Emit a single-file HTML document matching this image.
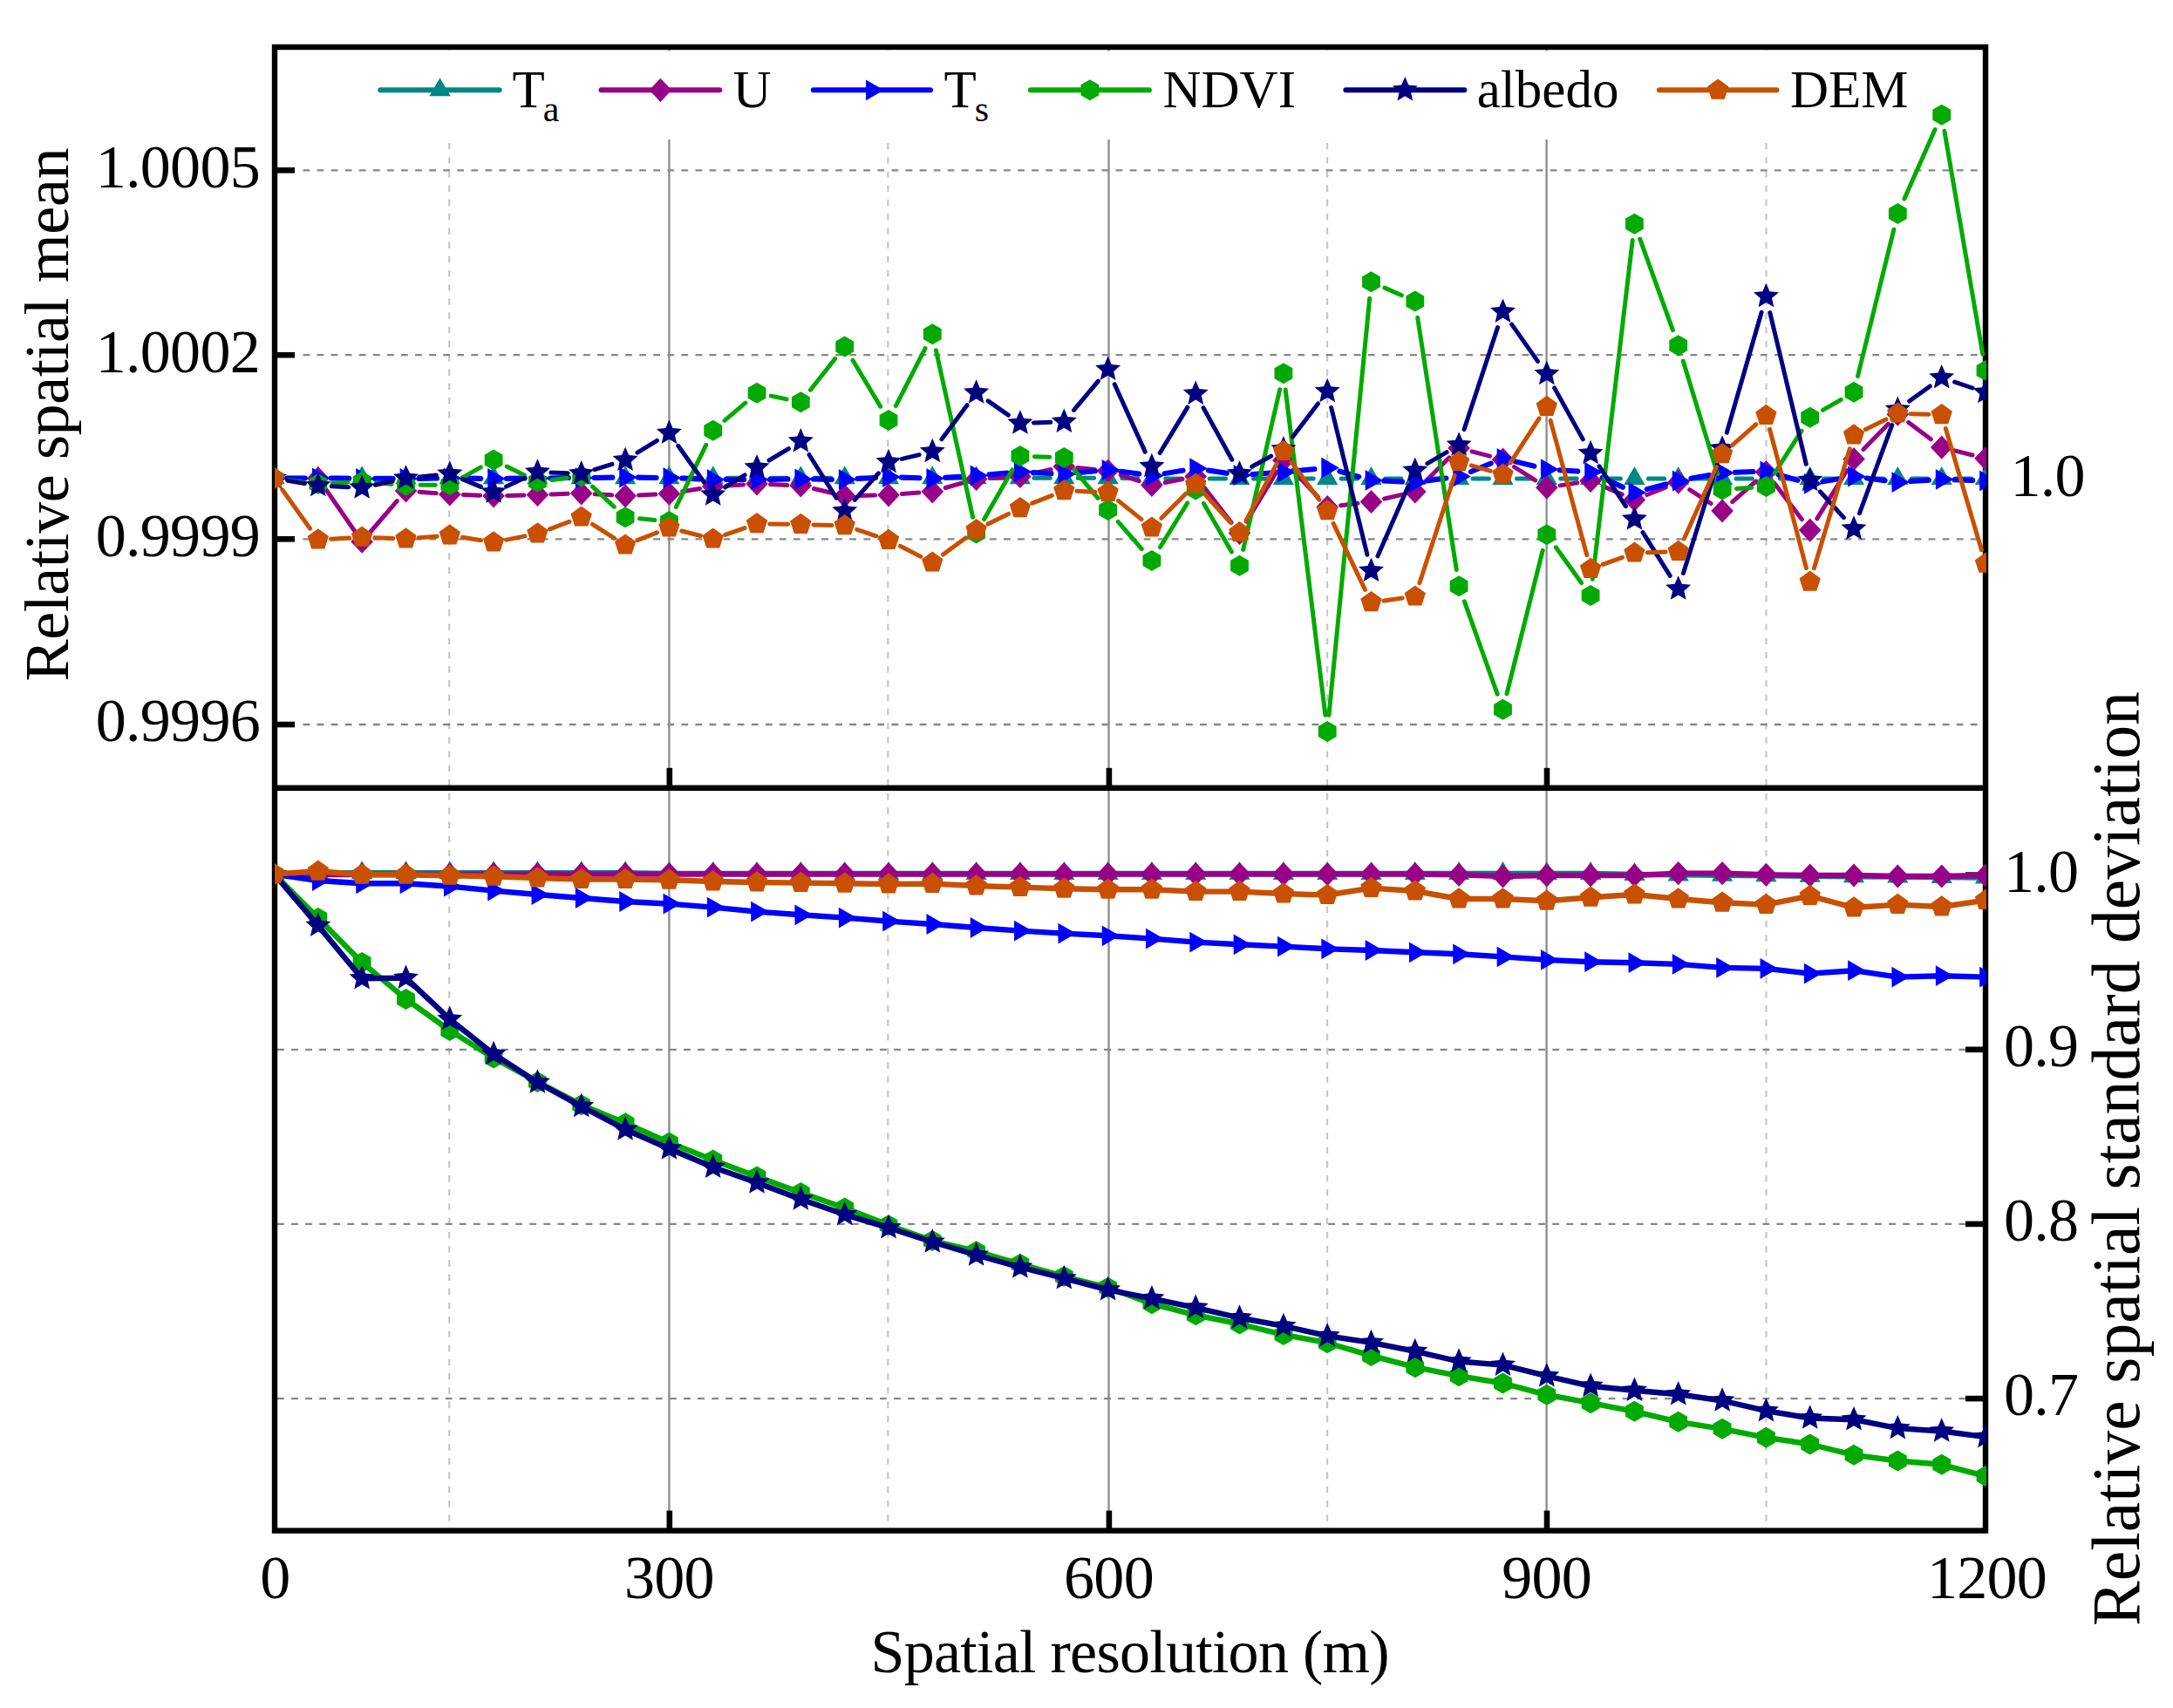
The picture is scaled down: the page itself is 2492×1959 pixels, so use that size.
<!DOCTYPE html>
<html><head><meta charset="utf-8"><title>Relative spatial mean and standard deviation</title>
<style>html,body{margin:0;padding:0;background:#fff;overflow:hidden}svg{display:block}text{font-family:"Liberation Serif",serif;fill:#000}</style>
</head><body>
<svg width="2492" height="1959" viewBox="0 0 2492 1959">
<rect x="0" y="0" width="2492" height="1959" fill="#fff"/>
<defs>
<polygon id="mTa" points="0,-14 12.1,7 -12.1,7" fill="#008686"/>
<polygon id="mU" points="0,-13.6 12.8,0 0,13.6 -12.8,0" fill="#990088"/>
<polygon id="mTs" points="13.7,0 -6.8,11.9 -6.9,-11.9" fill="#0000ff"/>
<polygon id="mNDVI" points="0,-12 10.4,-6 10.4,6 0,12 -10.4,6 -10.4,-6" fill="#00aa00"/>
<polygon id="malbedo" points="0,-15.2 4.1,-5.7 14.5,-4.7 6.6,2.2 8.9,12.3 0,7 -8.9,12.3 -6.6,2.2 -14.5,-4.7 -4.1,-5.7" fill="#000080"/>
<polygon id="mDEM" points="0,-12.8 12.2,-4 7.5,10.4 -7.5,10.4 -12.2,-4" fill="#c85000"/>
<clipPath id="cpT"><rect x="315" y="54" width="1963" height="849.8"/></clipPath>
<clipPath id="cpB"><rect x="315" y="903.8" width="1963" height="851.8"/></clipPath>
</defs>
<g fill="none">
<line x1="767.4" y1="54" x2="767.4" y2="1755.6" stroke="#8a8a8a" stroke-width="2.3"/>
<line x1="1271.5" y1="54" x2="1271.5" y2="1755.6" stroke="#8a8a8a" stroke-width="2.3"/>
<line x1="1773.6" y1="54" x2="1773.6" y2="1755.6" stroke="#8a8a8a" stroke-width="2.3"/>
<line x1="515.2" y1="54" x2="515.2" y2="1755.6" stroke="#c6c6c6" stroke-width="2.2" stroke-dasharray="7.4 8.82" stroke-dashoffset="3.6"/>
<line x1="1018.3" y1="54" x2="1018.3" y2="1755.6" stroke="#c6c6c6" stroke-width="2.2" stroke-dasharray="7.4 8.82" stroke-dashoffset="3.6"/>
<line x1="1522.1" y1="54" x2="1522.1" y2="1755.6" stroke="#c6c6c6" stroke-width="2.2" stroke-dasharray="7.4 8.82" stroke-dashoffset="3.6"/>
<line x1="2025.5" y1="54" x2="2025.5" y2="1755.6" stroke="#c6c6c6" stroke-width="2.2" stroke-dasharray="7.4 8.82" stroke-dashoffset="3.6"/>
<line x1="347.5" y1="195.3" x2="2274" y2="195.3" stroke="#868686" stroke-width="2.3" stroke-dasharray="7.8 8.27" />
<line x1="347.5" y1="407.2" x2="2274" y2="407.2" stroke="#868686" stroke-width="2.3" stroke-dasharray="7.8 8.27" />
<line x1="347.5" y1="618.3" x2="2274" y2="618.3" stroke="#868686" stroke-width="2.3" stroke-dasharray="7.8 8.27" />
<line x1="347.5" y1="831" x2="2274" y2="831" stroke="#868686" stroke-width="2.3" stroke-dasharray="7.8 8.27" />
<line x1="318" y1="1203.8" x2="2274" y2="1203.8" stroke="#868686" stroke-width="2.3" stroke-dasharray="7.8 8.27" />
<line x1="318" y1="1403.9" x2="2274" y2="1403.9" stroke="#868686" stroke-width="2.3" stroke-dasharray="7.8 8.27" />
<line x1="318" y1="1604.1" x2="2274" y2="1604.1" stroke="#868686" stroke-width="2.3" stroke-dasharray="7.8 8.27" />
</g>
<rect x="400" y="58.5" width="1810" height="101.5" fill="#fff"/>
<g stroke="#000" fill="none" stroke-width="6.4">
<rect x="315" y="54" width="1962" height="1701.6"/>
<line x1="315" y1="903.8" x2="2277" y2="903.8"/>
</g>
<g stroke="#000" fill="none" stroke-width="6.6">
<line x1="315" y1="195.3" x2="338" y2="195.3"/>
<line x1="315" y1="407.2" x2="338" y2="407.2"/>
<line x1="315" y1="618.3" x2="338" y2="618.3"/>
<line x1="315" y1="831" x2="338" y2="831"/>
<line x1="2277" y1="1003.6" x2="2254" y2="1003.6"/>
<line x1="2277" y1="1203.8" x2="2254" y2="1203.8"/>
<line x1="2277" y1="1403.9" x2="2254" y2="1403.9"/>
<line x1="2277" y1="1604.1" x2="2254" y2="1604.1"/>
<line x1="767.8" y1="1755.6" x2="767.8" y2="1732.6"/>
<line x1="767.8" y1="903.8" x2="767.8" y2="880.8"/>
<line x1="1271.9" y1="1755.6" x2="1271.9" y2="1732.6"/>
<line x1="1271.9" y1="903.8" x2="1271.9" y2="880.8"/>
<line x1="1774" y1="1755.6" x2="1774" y2="1732.6"/>
<line x1="1774" y1="903.8" x2="1774" y2="880.8"/>
</g>
<g clip-path="url(#cpT)">
<path d="M330.5 548.3L348.8 548.3M380.8 548.3L399.1 548.3M431.1 548.3L449.5 548.3M481.5 548.3L499.8 548.3M531.8 548.3L550.1 548.3M582.1 548.3L600.4 548.3M632.4 548.3L650.7 548.3M682.7 548.3L701.1 548.3M733.1 548.3L751.4 548.3M783.4 548.3L801.7 548.3M833.7 548.3L852 548.3M884 548.3L902.3 548.3M934.3 548.3L952.7 548.3M984.7 548.3L1003 548.3M1035 548.3L1053.3 548.3M1085.3 548.3L1103.6 548.3M1135.6 548.3L1153.9 548.3M1185.9 548.3L1204.3 548.3M1236.3 548.3L1254.6 548.3M1286.6 548.5L1304.9 548.8M1336.9 549L1355.2 549M1387.2 549L1405.5 549M1437.5 549L1455.9 549M1487.9 549L1506.2 549M1538.2 549L1556.5 549M1588.5 549L1606.8 549M1638.8 549L1657.1 549M1689.1 549L1707.5 549M1739.5 549L1757.8 549M1789.8 549L1808.1 549M1840.1 549L1858.4 549M1890.4 549L1908.7 549M1940.7 549L1959.1 549M1991.1 549L2009.4 549M2041.4 549L2059.7 549M2091.7 549L2110 549M2142 549L2160.3 549M2192.3 549L2210.7 549M2242.7 549L2261 549" stroke="#008686" stroke-width="5" stroke-linecap="round" fill="none"/>
<g><use href="#mTa" x="314.5" y="548.3"/><use href="#mTa" x="364.8" y="548.3"/><use href="#mTa" x="415.1" y="548.3"/><use href="#mTa" x="465.5" y="548.3"/><use href="#mTa" x="515.8" y="548.3"/><use href="#mTa" x="566.1" y="548.3"/><use href="#mTa" x="616.4" y="548.3"/><use href="#mTa" x="666.7" y="548.3"/><use href="#mTa" x="717.1" y="548.3"/><use href="#mTa" x="767.4" y="548.3"/><use href="#mTa" x="817.7" y="548.3"/><use href="#mTa" x="868" y="548.3"/><use href="#mTa" x="918.3" y="548.3"/><use href="#mTa" x="968.7" y="548.3"/><use href="#mTa" x="1019" y="548.3"/><use href="#mTa" x="1069.3" y="548.3"/><use href="#mTa" x="1119.6" y="548.3"/><use href="#mTa" x="1169.9" y="548.3"/><use href="#mTa" x="1220.3" y="548.3"/><use href="#mTa" x="1270.6" y="548.3"/><use href="#mTa" x="1320.9" y="549"/><use href="#mTa" x="1371.2" y="549"/><use href="#mTa" x="1421.5" y="549"/><use href="#mTa" x="1471.9" y="549"/><use href="#mTa" x="1522.2" y="549"/><use href="#mTa" x="1572.5" y="549"/><use href="#mTa" x="1622.8" y="549"/><use href="#mTa" x="1673.1" y="549"/><use href="#mTa" x="1723.5" y="549"/><use href="#mTa" x="1773.8" y="549"/><use href="#mTa" x="1824.1" y="549"/><use href="#mTa" x="1874.4" y="549"/><use href="#mTa" x="1924.7" y="549"/><use href="#mTa" x="1975.1" y="549"/><use href="#mTa" x="2025.4" y="549"/><use href="#mTa" x="2075.7" y="549"/><use href="#mTa" x="2126" y="549"/><use href="#mTa" x="2176.3" y="549"/><use href="#mTa" x="2226.7" y="549"/><use href="#mTa" x="2277" y="549"/></g>
<path d="M330 548.7L349.3 548.6M373.6 561.2L406.3 608.5M425.3 609.5L455.3 574.7M480.9 564.2L500.3 565.8M531.3 567.5L550.6 568.2M581.6 568.4L600.9 567.9M631.9 567L651.2 566.3M682.2 566.7L701.6 567.8M732.5 568L751.9 567M782.7 563.7L802.4 560.5M833.2 557.1L852.5 555.9M883.5 555.6L902.9 556.4M933.4 560.5L953.6 565.2M984.2 568.4L1003.5 568.1M1034.4 566.5L1053.8 565M1084.2 559.5L1104.7 553.7M1135.1 548.6L1154.5 547.4M1185.1 543L1205.1 538.5M1235.7 536.5L1255.2 538.5M1285.3 544.8L1306.2 551.7M1336.1 553.5L1356 549.5M1380.7 558.8L1412.1 599.2M1429.5 598.2L1463.9 541.2M1482.5 539.2L1511.6 570.2M1537.6 579.7L1557.1 577.3M1587.6 572L1607.7 567.4M1633.8 553L1662.1 524.8M1688.1 517.9L1708.5 523.2M1736.5 535.5L1760.7 550.9M1789.1 556.9L1808.8 553.8M1838.3 557.6L1860.2 567.1M1888.8 567.5L1910.3 558.9M1937.7 561.6L1962.1 577.5M1986.7 575.6L2013.8 551.8M2034.7 553.9L2066.4 595.7M2083.8 594.9L2117.9 539.7M2136.9 515.4L2165.5 486.3M2188.7 484.5L2214.3 503.8M2241.7 516.9L2262 522" stroke="#990088" stroke-width="5" stroke-linecap="round" fill="none"/>
<g><use href="#mU" x="314.5" y="548.8"/><use href="#mU" x="364.8" y="548.5"/><use href="#mU" x="415.1" y="621.2"/><use href="#mU" x="465.5" y="563"/><use href="#mU" x="515.8" y="567"/><use href="#mU" x="566.1" y="568.8"/><use href="#mU" x="616.4" y="567.5"/><use href="#mU" x="666.7" y="565.8"/><use href="#mU" x="717.1" y="568.8"/><use href="#mU" x="767.4" y="566.2"/><use href="#mU" x="817.7" y="558"/><use href="#mU" x="868" y="555"/><use href="#mU" x="918.3" y="557"/><use href="#mU" x="968.7" y="568.8"/><use href="#mU" x="1019" y="567.8"/><use href="#mU" x="1069.3" y="563.8"/><use href="#mU" x="1119.6" y="549.5"/><use href="#mU" x="1169.9" y="546.5"/><use href="#mU" x="1220.3" y="535"/><use href="#mU" x="1270.6" y="540"/><use href="#mU" x="1320.9" y="556.5"/><use href="#mU" x="1371.2" y="546.5"/><use href="#mU" x="1421.5" y="611.5"/><use href="#mU" x="1471.9" y="527.9"/><use href="#mU" x="1522.2" y="581.5"/><use href="#mU" x="1572.5" y="575.5"/><use href="#mU" x="1622.8" y="563.9"/><use href="#mU" x="1673.1" y="513.9"/><use href="#mU" x="1723.5" y="527.2"/><use href="#mU" x="1773.8" y="559.2"/><use href="#mU" x="1824.1" y="551.5"/><use href="#mU" x="1874.4" y="573.2"/><use href="#mU" x="1924.7" y="553.2"/><use href="#mU" x="1975.1" y="585.9"/><use href="#mU" x="2025.4" y="541.5"/><use href="#mU" x="2075.7" y="608.1"/><use href="#mU" x="2126" y="526.5"/><use href="#mU" x="2176.3" y="475.2"/><use href="#mU" x="2226.7" y="513.1"/><use href="#mU" x="2277" y="525.8"/></g>
<path d="M329.3 548.6L350 548.4M379.6 548.5L400.3 548.8M429.9 549L450.7 549M480.3 548.9L501 548.6M530.6 548.6L551.3 548.9M580.9 548.9L601.6 548.6M631.2 548.4L651.9 548.1M681.5 547.9L702.3 547.6M731.9 547.6L752.6 547.9M782.2 548.6L802.9 549.4M832.5 550L853.2 550M882.8 549.9L903.5 549.6M933.1 549.6L953.9 549.9M983.4 549.1L1004.2 547.9M1033.8 547.5L1054.5 548.2M1084.1 547.8L1104.9 546.5M1134.4 544.3L1155.2 542.5M1184.7 542L1205.5 543M1235 542.3L1255.9 540.2M1285.2 540.7L1306.2 543.5M1335.5 543.1L1356.6 539.6M1385.8 539.5L1406.9 542.7M1436.3 544L1457.1 542.6M1486.6 540.1L1507.5 538M1536.4 540.6L1558.3 546.8M1587.3 551.6L1608 552.5M1637.5 551.3L1658.5 548.5M1686.8 541L1709.8 531.5M1737.8 529.4L1759.4 534.7M1788.5 539.2L1809.3 540.6M1837.5 547.8L1861 558.7M1888.7 561.1L1910.4 555.3M1939.3 548.8L1960.5 545M1989.9 541.8L2010.6 541M2039.6 544.5L2061.5 550.8M2090.3 552.4L2111.4 548.9M2140.7 548.4L2161.7 551.2M2191.1 552.1L2211.9 550.8M2241.5 550.3L2262.2 551" stroke="#0000ff" stroke-width="6" stroke-linecap="round" fill="none"/>
<g><use href="#mTs" x="314.5" y="548.8"/><use href="#mTs" x="364.8" y="548.3"/><use href="#mTs" x="415.1" y="549"/><use href="#mTs" x="465.5" y="549"/><use href="#mTs" x="515.8" y="548.5"/><use href="#mTs" x="566.1" y="549"/><use href="#mTs" x="616.4" y="548.5"/><use href="#mTs" x="666.7" y="548"/><use href="#mTs" x="717.1" y="547.5"/><use href="#mTs" x="767.4" y="548"/><use href="#mTs" x="817.7" y="550"/><use href="#mTs" x="868" y="550"/><use href="#mTs" x="918.3" y="549.5"/><use href="#mTs" x="968.7" y="550"/><use href="#mTs" x="1019" y="547"/><use href="#mTs" x="1069.3" y="548.8"/><use href="#mTs" x="1119.6" y="545.5"/><use href="#mTs" x="1169.9" y="541.2"/><use href="#mTs" x="1220.3" y="543.8"/><use href="#mTs" x="1270.6" y="538.8"/><use href="#mTs" x="1320.9" y="545.5"/><use href="#mTs" x="1371.2" y="537.2"/><use href="#mTs" x="1421.5" y="545"/><use href="#mTs" x="1471.9" y="541.6"/><use href="#mTs" x="1522.2" y="536.5"/><use href="#mTs" x="1572.5" y="550.9"/><use href="#mTs" x="1622.8" y="553.2"/><use href="#mTs" x="1673.1" y="546.6"/><use href="#mTs" x="1723.5" y="525.9"/><use href="#mTs" x="1773.8" y="538.2"/><use href="#mTs" x="1824.1" y="541.6"/><use href="#mTs" x="1874.4" y="564.9"/><use href="#mTs" x="1924.7" y="551.5"/><use href="#mTs" x="1975.1" y="542.3"/><use href="#mTs" x="2025.4" y="540.5"/><use href="#mTs" x="2075.7" y="554.8"/><use href="#mTs" x="2126" y="546.5"/><use href="#mTs" x="2176.3" y="553.1"/><use href="#mTs" x="2226.7" y="549.8"/><use href="#mTs" x="2277" y="551.5"/></g>
<path d="M330.9 550.8L348.4 553M381.3 554.2L398.7 553.3M431.6 553.8L449 555.2M482 556.3L499.3 556.2M530.6 547.6L551.3 535.9M581.2 535L601.3 545M632.8 550.5L650.3 548.3M679.5 558.2L704.3 581.3M733.5 594.8L750.9 596.4M775.4 581.4L809.7 510.3M830.9 482.4L854.8 462.1M884.3 454.1L902.1 457.9M929.4 447.2L957.6 411.5M978 413.2L1009.7 466.3M1027.3 465.6L1061 399.6M1073.4 401.7L1115.6 593.1M1128.6 595.6L1160.9 538.9M1186.4 523.7L1203.8 524.3M1231.7 538.7L1259.1 571.3M1282.2 598.4L1309.3 629.6M1330.5 627.5L1361.7 577M1380.3 577.3L1412.4 633M1425.7 630.4L1467.7 446.7M1474.2 447.1L1519.9 820.3M1524 820.2L1570.7 342.2M1587.9 330.1L1607.4 338.8M1625.7 364.3L1670.3 653.5M1679.4 689.8L1717.2 796.2M1728 795.6L1769.2 631.4M1784.3 627.8L1813.6 668.5M1826.3 664.3L1872.2 275.5M1880.7 274.2L1918.4 378.7M1930.2 414.1L1969.6 543.6M1991.5 560.4L2008.9 559.2M2035.1 542.8L2066 494.1M2090.4 470.3L2111.3 458.3M2130.5 431.5L2171.9 263.2M2183.9 228L2219.1 148.6M2229.9 150.3L2273.8 406.3" stroke="#00aa00" stroke-width="5" stroke-linecap="round" fill="none"/>
<g><use href="#mNDVI" x="314.5" y="548.8"/><use href="#mNDVI" x="364.8" y="555"/><use href="#mNDVI" x="415.1" y="552.5"/><use href="#mNDVI" x="465.5" y="556.5"/><use href="#mNDVI" x="515.8" y="556"/><use href="#mNDVI" x="566.1" y="527.5"/><use href="#mNDVI" x="616.4" y="552.5"/><use href="#mNDVI" x="666.7" y="546.2"/><use href="#mNDVI" x="717.1" y="593.2"/><use href="#mNDVI" x="767.4" y="598"/><use href="#mNDVI" x="817.7" y="493.8"/><use href="#mNDVI" x="868" y="450.8"/><use href="#mNDVI" x="918.3" y="461.2"/><use href="#mNDVI" x="968.7" y="397.5"/><use href="#mNDVI" x="1019" y="482"/><use href="#mNDVI" x="1069.3" y="383.2"/><use href="#mNDVI" x="1119.6" y="611.5"/><use href="#mNDVI" x="1169.9" y="523"/><use href="#mNDVI" x="1220.3" y="525"/><use href="#mNDVI" x="1270.6" y="585"/><use href="#mNDVI" x="1320.9" y="643"/><use href="#mNDVI" x="1371.2" y="561.5"/><use href="#mNDVI" x="1421.5" y="648.8"/><use href="#mNDVI" x="1471.9" y="428.3"/><use href="#mNDVI" x="1522.2" y="839.1"/><use href="#mNDVI" x="1572.5" y="323.3"/><use href="#mNDVI" x="1622.8" y="345.6"/><use href="#mNDVI" x="1673.1" y="672.2"/><use href="#mNDVI" x="1723.5" y="813.8"/><use href="#mNDVI" x="1773.8" y="613.2"/><use href="#mNDVI" x="1824.1" y="683.1"/><use href="#mNDVI" x="1874.4" y="256.7"/><use href="#mNDVI" x="1924.7" y="396.2"/><use href="#mNDVI" x="1975.1" y="561.5"/><use href="#mNDVI" x="2025.4" y="558.1"/><use href="#mNDVI" x="2075.7" y="478.8"/><use href="#mNDVI" x="2126" y="449.8"/><use href="#mNDVI" x="2176.3" y="244.9"/><use href="#mNDVI" x="2226.7" y="131.7"/><use href="#mNDVI" x="2277" y="424.9"/></g>
<path d="M329.9 551.3L349.5 554.5M380.3 557.8L399.7 558.7M430.4 556.2L450.2 551.8M480.9 547L500.3 545M530.5 549.6L551.4 558.4M580.6 557.9L601.9 548.1M631.9 542.1L651.2 542.7M681.8 538.6L702 532.4M731 519.2L753.5 505.3M777.7 511.3L807.4 553M831.6 558.9L854.1 544.9M882 528L904.4 514.6M927.9 521.5L959.1 571.1M980.2 573.4L1007.4 542.9M1034.2 526.4L1054.1 521.6M1079.9 503.8L1109.1 464.7M1133.1 459.9L1156.4 476.1M1185.4 485L1204.8 484.3M1231.5 470.4L1259.4 437.2M1278.2 440.7L1313.2 518.1M1330.2 519.5L1361.9 467.1M1380 467.6L1412.8 527.2M1435.7 535.3L1457.7 523.1M1482.5 501.1L1511.5 463M1526.7 467.5L1567.9 636.2M1580 637.8L1615.4 556.8M1636.9 531.6L1659.1 518.7M1679.1 492.5L1717.5 375.6M1733.7 372.1L1763.5 414.4M1782.6 444.9L1815.3 503.9M1834 534.8L1864.5 580.6M1884 610.7L1915.2 660.3M1930.4 657.4L1969.4 532.6M1980.3 496.2L2020.1 358.2M2029.8 358.6L2071.3 532.3M2087.3 563.8L2114.4 593.6M2132.5 588.7L2169.8 487.5M2189.7 460L2213.3 442.9M2241.6 438.1L2262 445" stroke="#000080" stroke-width="5" stroke-linecap="round" fill="none"/>
<g><use href="#malbedo" x="314.5" y="548.8"/><use href="#malbedo" x="364.8" y="557"/><use href="#malbedo" x="415.1" y="559.5"/><use href="#malbedo" x="465.5" y="548.5"/><use href="#malbedo" x="515.8" y="543.5"/><use href="#malbedo" x="566.1" y="564.5"/><use href="#malbedo" x="616.4" y="541.5"/><use href="#malbedo" x="666.7" y="543.3"/><use href="#malbedo" x="717.1" y="527.7"/><use href="#malbedo" x="767.4" y="496.8"/><use href="#malbedo" x="817.7" y="567.5"/><use href="#malbedo" x="868" y="536.3"/><use href="#malbedo" x="918.3" y="506.3"/><use href="#malbedo" x="968.7" y="586.3"/><use href="#malbedo" x="1019" y="530"/><use href="#malbedo" x="1069.3" y="518"/><use href="#malbedo" x="1119.6" y="450.5"/><use href="#malbedo" x="1169.9" y="485.5"/><use href="#malbedo" x="1220.3" y="483.8"/><use href="#malbedo" x="1270.6" y="423.8"/><use href="#malbedo" x="1320.9" y="535"/><use href="#malbedo" x="1371.2" y="451.6"/><use href="#malbedo" x="1421.5" y="543.2"/><use href="#malbedo" x="1471.9" y="515.2"/><use href="#malbedo" x="1522.2" y="448.9"/><use href="#malbedo" x="1572.5" y="654.8"/><use href="#malbedo" x="1622.8" y="539.8"/><use href="#malbedo" x="1673.1" y="510.5"/><use href="#malbedo" x="1723.5" y="357.6"/><use href="#malbedo" x="1773.8" y="428.9"/><use href="#malbedo" x="1824.1" y="519.9"/><use href="#malbedo" x="1874.4" y="595.5"/><use href="#malbedo" x="1924.7" y="675.5"/><use href="#malbedo" x="1975.1" y="514.5"/><use href="#malbedo" x="2025.4" y="339.9"/><use href="#malbedo" x="2075.7" y="551"/><use href="#malbedo" x="2126" y="606.4"/><use href="#malbedo" x="2176.3" y="469.8"/><use href="#malbedo" x="2226.7" y="433.1"/><use href="#malbedo" x="2277" y="450"/></g>
<path d="M323.7 561.6L355.6 606.2M379.5 618.2L400.5 617.1M429.8 616.8L450.8 617.5M480.1 616.8L501.1 615.2M530.3 616.3L551.5 619.7M580.6 619.1L601.9 614.9M630.4 606.8L652.8 598.4M679.5 601.4L704.3 617.1M730.9 619.7L753.5 610.8M781.7 609L803.4 614.5M831.7 613.4L854 605.6M882.7 601L903.6 601.3M933 601.9L954 602.4M982.7 607.4L1004.9 614.8M1032.3 626.3L1055.9 638.4M1081.5 636.1L1107.4 616.9M1133.1 601.1L1156.5 589.4M1183.8 577.2L1206.4 568.3M1235 563.3L1255.9 564.2M1282.5 574.4L1309 595.6M1331.9 594.3L1360.2 566.1M1381.7 566.8L1411.1 599.3M1429.1 596.8L1464.3 531.7M1481.2 530.3L1512.8 573.2M1529.1 600.4L1565.5 676.3M1587.1 688.9L1608.2 686.1M1627.9 668.7L1668.1 545.4M1687.4 533.9L1709.2 540.2M1732.1 530.9L1765.1 479.9M1778.1 482.4L1819.8 636.7M1838.1 647.4L1860.4 639.3M1889.1 633.7L1910 633M1931.4 617.8L1968.4 535.5M1986.6 510.6L2013.8 486.7M2029.5 492.3L2071.5 651.6M2080.4 651.8L2121.3 514.7M2139.5 492.4L2162.9 480.9M2191 474.7L2212 475.3M2231.3 491.5L2272.4 630.7" stroke="#c85000" stroke-width="5" stroke-linecap="round" fill="none"/>
<g><use href="#mDEM" x="314.5" y="548.8"/><use href="#mDEM" x="364.8" y="619"/><use href="#mDEM" x="415.1" y="616.3"/><use href="#mDEM" x="465.5" y="618"/><use href="#mDEM" x="515.8" y="614"/><use href="#mDEM" x="566.1" y="622"/><use href="#mDEM" x="616.4" y="612"/><use href="#mDEM" x="666.7" y="593.2"/><use href="#mDEM" x="717.1" y="625.2"/><use href="#mDEM" x="767.4" y="605.2"/><use href="#mDEM" x="817.7" y="618.2"/><use href="#mDEM" x="868" y="600.8"/><use href="#mDEM" x="918.3" y="601.5"/><use href="#mDEM" x="968.7" y="602.8"/><use href="#mDEM" x="1019" y="619.5"/><use href="#mDEM" x="1069.3" y="645.2"/><use href="#mDEM" x="1119.6" y="607.8"/><use href="#mDEM" x="1169.9" y="582.8"/><use href="#mDEM" x="1220.3" y="562.8"/><use href="#mDEM" x="1270.6" y="564.8"/><use href="#mDEM" x="1320.9" y="605.2"/><use href="#mDEM" x="1371.2" y="555.2"/><use href="#mDEM" x="1421.5" y="610.9"/><use href="#mDEM" x="1471.9" y="517.6"/><use href="#mDEM" x="1522.2" y="585.9"/><use href="#mDEM" x="1572.5" y="690.8"/><use href="#mDEM" x="1622.8" y="684.2"/><use href="#mDEM" x="1673.1" y="529.9"/><use href="#mDEM" x="1723.5" y="544.2"/><use href="#mDEM" x="1773.8" y="466.6"/><use href="#mDEM" x="1824.1" y="652.5"/><use href="#mDEM" x="1874.4" y="634.2"/><use href="#mDEM" x="1924.7" y="632.5"/><use href="#mDEM" x="1975.1" y="520.8"/><use href="#mDEM" x="2025.4" y="476.5"/><use href="#mDEM" x="2075.7" y="667.4"/><use href="#mDEM" x="2126" y="499.1"/><use href="#mDEM" x="2176.3" y="474.2"/><use href="#mDEM" x="2226.7" y="475.8"/><use href="#mDEM" x="2277" y="646.4"/></g>
</g>
<g clip-path="url(#cpB)">
<polyline points="314.5,1002.6 364.8,1001.3 415.1,1001.3 465.5,1001.3 515.8,1001.3 566.1,1001.3 616.4,1001.3 666.7,1001.3 717.1,1001.3 767.4,1002 817.7,1002 868,1002 918.3,1002 968.7,1002 1019,1002 1069.3,1002 1119.6,1002 1169.9,1002 1220.3,1002 1270.6,1002 1320.9,1002 1371.2,1002 1421.5,1002 1471.9,1002 1522.2,1002 1572.5,1002 1622.8,1002 1673.1,1002 1723.5,1002 1773.8,1002 1824.1,1002 1874.4,1002.9 1924.7,1003.4 1975.1,1003.8 2025.4,1004.3 2075.7,1004.7 2126,1005.2 2176.3,1005.6 2226.7,1006.1 2277,1006.5" stroke="#008686" stroke-width="6.4" stroke-linejoin="round" fill="none"/>
<g><use href="#mTa" x="314.5" y="1002.6"/><use href="#mTa" x="364.8" y="1001.3"/><use href="#mTa" x="415.1" y="1001.3"/><use href="#mTa" x="465.5" y="1001.3"/><use href="#mTa" x="515.8" y="1001.3"/><use href="#mTa" x="566.1" y="1001.3"/><use href="#mTa" x="616.4" y="1001.3"/><use href="#mTa" x="666.7" y="1001.3"/><use href="#mTa" x="717.1" y="1001.3"/><use href="#mTa" x="767.4" y="1002"/><use href="#mTa" x="817.7" y="1002"/><use href="#mTa" x="868" y="1002"/><use href="#mTa" x="918.3" y="1002"/><use href="#mTa" x="968.7" y="1002"/><use href="#mTa" x="1019" y="1002"/><use href="#mTa" x="1069.3" y="1002"/><use href="#mTa" x="1119.6" y="1002"/><use href="#mTa" x="1169.9" y="1002"/><use href="#mTa" x="1220.3" y="1002"/><use href="#mTa" x="1270.6" y="1002"/><use href="#mTa" x="1320.9" y="1002"/><use href="#mTa" x="1371.2" y="1002"/><use href="#mTa" x="1421.5" y="1002"/><use href="#mTa" x="1471.9" y="1002"/><use href="#mTa" x="1522.2" y="1002"/><use href="#mTa" x="1572.5" y="1002"/><use href="#mTa" x="1622.8" y="1002"/><use href="#mTa" x="1673.1" y="1002"/><use href="#mTa" x="1723.5" y="1002"/><use href="#mTa" x="1773.8" y="1002"/><use href="#mTa" x="1824.1" y="1002"/><use href="#mTa" x="1874.4" y="1002.9"/><use href="#mTa" x="1924.7" y="1003.4"/><use href="#mTa" x="1975.1" y="1003.8"/><use href="#mTa" x="2025.4" y="1004.3"/><use href="#mTa" x="2075.7" y="1004.7"/><use href="#mTa" x="2126" y="1005.2"/><use href="#mTa" x="2176.3" y="1005.6"/><use href="#mTa" x="2226.7" y="1006.1"/><use href="#mTa" x="2277" y="1006.5"/></g>
<polyline points="314.5,1002.6 364.8,1003 415.1,1003 465.5,1003 515.8,1003 566.1,1002.6 616.4,1002.6 666.7,1002.6 717.1,1002.6 767.4,1002.6 817.7,1002.6 868,1002.6 918.3,1002.6 968.7,1002.6 1019,1002.6 1069.3,1002.6 1119.6,1002.6 1169.9,1002.6 1220.3,1002.6 1270.6,1002.6 1320.9,1002.6 1371.2,1002.6 1421.5,1002.6 1471.9,1002.6 1522.2,1002.6 1572.5,1002.6 1622.8,1002.6 1673.1,1003.3 1723.5,1005 1773.8,1004 1824.1,1004 1874.4,1004 1924.7,1001.6 1975.1,1001.6 2025.4,1003.3 2075.7,1004 2126,1004 2176.3,1005 2226.7,1005 2277,1004" stroke="#990088" stroke-width="6.4" stroke-linejoin="round" fill="none"/>
<g><use href="#mU" x="314.5" y="1002.6"/><use href="#mU" x="364.8" y="1003"/><use href="#mU" x="415.1" y="1003"/><use href="#mU" x="465.5" y="1003"/><use href="#mU" x="515.8" y="1003"/><use href="#mU" x="566.1" y="1002.6"/><use href="#mU" x="616.4" y="1002.6"/><use href="#mU" x="666.7" y="1002.6"/><use href="#mU" x="717.1" y="1002.6"/><use href="#mU" x="767.4" y="1002.6"/><use href="#mU" x="817.7" y="1002.6"/><use href="#mU" x="868" y="1002.6"/><use href="#mU" x="918.3" y="1002.6"/><use href="#mU" x="968.7" y="1002.6"/><use href="#mU" x="1019" y="1002.6"/><use href="#mU" x="1069.3" y="1002.6"/><use href="#mU" x="1119.6" y="1002.6"/><use href="#mU" x="1169.9" y="1002.6"/><use href="#mU" x="1220.3" y="1002.6"/><use href="#mU" x="1270.6" y="1002.6"/><use href="#mU" x="1320.9" y="1002.6"/><use href="#mU" x="1371.2" y="1002.6"/><use href="#mU" x="1421.5" y="1002.6"/><use href="#mU" x="1471.9" y="1002.6"/><use href="#mU" x="1522.2" y="1002.6"/><use href="#mU" x="1572.5" y="1002.6"/><use href="#mU" x="1622.8" y="1002.6"/><use href="#mU" x="1673.1" y="1003.3"/><use href="#mU" x="1723.5" y="1005"/><use href="#mU" x="1773.8" y="1004"/><use href="#mU" x="1824.1" y="1004"/><use href="#mU" x="1874.4" y="1004"/><use href="#mU" x="1924.7" y="1001.6"/><use href="#mU" x="1975.1" y="1001.6"/><use href="#mU" x="2025.4" y="1003.3"/><use href="#mU" x="2075.7" y="1004"/><use href="#mU" x="2126" y="1004"/><use href="#mU" x="2176.3" y="1005"/><use href="#mU" x="2226.7" y="1005"/><use href="#mU" x="2277" y="1004"/></g>
<polyline points="314.5,1002.6 364.8,1010 415.1,1013.3 465.5,1013.3 515.8,1016.6 566.1,1021.6 616.4,1026 666.7,1030 717.1,1034 767.4,1036.6 817.7,1040.6 868,1045.6 918.3,1049.3 968.7,1052.6 1019,1056.6 1069.3,1060 1119.6,1064 1169.9,1067.6 1220.3,1070.6 1270.6,1073.3 1320.9,1076.6 1371.2,1080.6 1421.5,1083.3 1471.9,1085.6 1522.2,1088.3 1572.5,1090 1622.8,1092.3 1673.1,1094.3 1723.5,1097.4 1773.8,1100.9 1824.1,1103.2 1874.4,1104.2 1924.7,1105.9 1975.1,1109.9 2025.4,1110.9 2075.7,1116.6 2126,1113.2 2176.3,1120.6 2226.7,1119.2 2277,1120.6" stroke="#0000ff" stroke-width="6.4" stroke-linejoin="round" fill="none"/>
<g><use href="#mTs" x="314.5" y="1002.6"/><use href="#mTs" x="364.8" y="1010"/><use href="#mTs" x="415.1" y="1013.3"/><use href="#mTs" x="465.5" y="1013.3"/><use href="#mTs" x="515.8" y="1016.6"/><use href="#mTs" x="566.1" y="1021.6"/><use href="#mTs" x="616.4" y="1026"/><use href="#mTs" x="666.7" y="1030"/><use href="#mTs" x="717.1" y="1034"/><use href="#mTs" x="767.4" y="1036.6"/><use href="#mTs" x="817.7" y="1040.6"/><use href="#mTs" x="868" y="1045.6"/><use href="#mTs" x="918.3" y="1049.3"/><use href="#mTs" x="968.7" y="1052.6"/><use href="#mTs" x="1019" y="1056.6"/><use href="#mTs" x="1069.3" y="1060"/><use href="#mTs" x="1119.6" y="1064"/><use href="#mTs" x="1169.9" y="1067.6"/><use href="#mTs" x="1220.3" y="1070.6"/><use href="#mTs" x="1270.6" y="1073.3"/><use href="#mTs" x="1320.9" y="1076.6"/><use href="#mTs" x="1371.2" y="1080.6"/><use href="#mTs" x="1421.5" y="1083.3"/><use href="#mTs" x="1471.9" y="1085.6"/><use href="#mTs" x="1522.2" y="1088.3"/><use href="#mTs" x="1572.5" y="1090"/><use href="#mTs" x="1622.8" y="1092.3"/><use href="#mTs" x="1673.1" y="1094.3"/><use href="#mTs" x="1723.5" y="1097.4"/><use href="#mTs" x="1773.8" y="1100.9"/><use href="#mTs" x="1824.1" y="1103.2"/><use href="#mTs" x="1874.4" y="1104.2"/><use href="#mTs" x="1924.7" y="1105.9"/><use href="#mTs" x="1975.1" y="1109.9"/><use href="#mTs" x="2025.4" y="1110.9"/><use href="#mTs" x="2075.7" y="1116.6"/><use href="#mTs" x="2126" y="1113.2"/><use href="#mTs" x="2176.3" y="1120.6"/><use href="#mTs" x="2226.7" y="1119.2"/><use href="#mTs" x="2277" y="1120.6"/></g>
<polyline points="314.5,1002.6 364.8,1053 415.1,1103.9 465.5,1145.9 515.8,1181.9 566.1,1213.5 616.4,1240.9 666.7,1267.2 717.1,1288.2 767.4,1310.5 817.7,1330.5 868,1349.5 918.3,1368.1 968.7,1385.5 1019,1405.2 1069.3,1423 1119.6,1435.2 1169.9,1449.8 1220.3,1464 1270.6,1476.8 1320.9,1495.3 1371.2,1508.3 1421.5,1518.5 1471.9,1530.9 1522.2,1540.2 1572.5,1554.9 1622.8,1568.2 1673.1,1578.2 1723.5,1586.5 1773.8,1599.8 1824.1,1609.2 1874.4,1618.8 1924.7,1630.8 1975.1,1638.8 2025.4,1648.8 2075.7,1656.5 2126,1668.8 2176.3,1675.5 2226.7,1679.8 2277,1693.1" stroke="#00aa00" stroke-width="6.4" stroke-linejoin="round" fill="none"/>
<g><use href="#mNDVI" x="314.5" y="1002.6"/><use href="#mNDVI" x="364.8" y="1053"/><use href="#mNDVI" x="415.1" y="1103.9"/><use href="#mNDVI" x="465.5" y="1145.9"/><use href="#mNDVI" x="515.8" y="1181.9"/><use href="#mNDVI" x="566.1" y="1213.5"/><use href="#mNDVI" x="616.4" y="1240.9"/><use href="#mNDVI" x="666.7" y="1267.2"/><use href="#mNDVI" x="717.1" y="1288.2"/><use href="#mNDVI" x="767.4" y="1310.5"/><use href="#mNDVI" x="817.7" y="1330.5"/><use href="#mNDVI" x="868" y="1349.5"/><use href="#mNDVI" x="918.3" y="1368.1"/><use href="#mNDVI" x="968.7" y="1385.5"/><use href="#mNDVI" x="1019" y="1405.2"/><use href="#mNDVI" x="1069.3" y="1423"/><use href="#mNDVI" x="1119.6" y="1435.2"/><use href="#mNDVI" x="1169.9" y="1449.8"/><use href="#mNDVI" x="1220.3" y="1464"/><use href="#mNDVI" x="1270.6" y="1476.8"/><use href="#mNDVI" x="1320.9" y="1495.3"/><use href="#mNDVI" x="1371.2" y="1508.3"/><use href="#mNDVI" x="1421.5" y="1518.5"/><use href="#mNDVI" x="1471.9" y="1530.9"/><use href="#mNDVI" x="1522.2" y="1540.2"/><use href="#mNDVI" x="1572.5" y="1554.9"/><use href="#mNDVI" x="1622.8" y="1568.2"/><use href="#mNDVI" x="1673.1" y="1578.2"/><use href="#mNDVI" x="1723.5" y="1586.5"/><use href="#mNDVI" x="1773.8" y="1599.8"/><use href="#mNDVI" x="1824.1" y="1609.2"/><use href="#mNDVI" x="1874.4" y="1618.8"/><use href="#mNDVI" x="1924.7" y="1630.8"/><use href="#mNDVI" x="1975.1" y="1638.8"/><use href="#mNDVI" x="2025.4" y="1648.8"/><use href="#mNDVI" x="2075.7" y="1656.5"/><use href="#mNDVI" x="2126" y="1668.8"/><use href="#mNDVI" x="2176.3" y="1675.5"/><use href="#mNDVI" x="2226.7" y="1679.8"/><use href="#mNDVI" x="2277" y="1693.1"/></g>
<polyline points="314.5,1002.6 364.8,1061.6 415.1,1122.3 465.5,1121.6 515.8,1168.9 566.1,1208.9 616.4,1241.5 666.7,1268.9 717.1,1295.5 767.4,1317.5 817.7,1338.8 868,1356.5 918.3,1375.5 968.7,1393.1 1019,1408.2 1069.3,1424.5 1119.6,1439.5 1169.9,1453.5 1220.3,1466.2 1270.6,1479.3 1320.9,1489.3 1371.2,1499.8 1421.5,1511.5 1471.9,1520.9 1522.2,1532.2 1572.5,1539.9 1622.8,1549.9 1673.1,1561.5 1723.5,1565.6 1773.8,1578.2 1824.1,1589.8 1874.4,1594.8 1924.7,1599.2 1975.1,1606.5 2025.4,1618.2 2075.7,1626.5 2126,1628.2 2176.3,1638.1 2226.7,1641.5 2277,1648.1" stroke="#000080" stroke-width="6.4" stroke-linejoin="round" fill="none"/>
<g><use href="#malbedo" x="314.5" y="1002.6"/><use href="#malbedo" x="364.8" y="1061.6"/><use href="#malbedo" x="415.1" y="1122.3"/><use href="#malbedo" x="465.5" y="1121.6"/><use href="#malbedo" x="515.8" y="1168.9"/><use href="#malbedo" x="566.1" y="1208.9"/><use href="#malbedo" x="616.4" y="1241.5"/><use href="#malbedo" x="666.7" y="1268.9"/><use href="#malbedo" x="717.1" y="1295.5"/><use href="#malbedo" x="767.4" y="1317.5"/><use href="#malbedo" x="817.7" y="1338.8"/><use href="#malbedo" x="868" y="1356.5"/><use href="#malbedo" x="918.3" y="1375.5"/><use href="#malbedo" x="968.7" y="1393.1"/><use href="#malbedo" x="1019" y="1408.2"/><use href="#malbedo" x="1069.3" y="1424.5"/><use href="#malbedo" x="1119.6" y="1439.5"/><use href="#malbedo" x="1169.9" y="1453.5"/><use href="#malbedo" x="1220.3" y="1466.2"/><use href="#malbedo" x="1270.6" y="1479.3"/><use href="#malbedo" x="1320.9" y="1489.3"/><use href="#malbedo" x="1371.2" y="1499.8"/><use href="#malbedo" x="1421.5" y="1511.5"/><use href="#malbedo" x="1471.9" y="1520.9"/><use href="#malbedo" x="1522.2" y="1532.2"/><use href="#malbedo" x="1572.5" y="1539.9"/><use href="#malbedo" x="1622.8" y="1549.9"/><use href="#malbedo" x="1673.1" y="1561.5"/><use href="#malbedo" x="1723.5" y="1565.6"/><use href="#malbedo" x="1773.8" y="1578.2"/><use href="#malbedo" x="1824.1" y="1589.8"/><use href="#malbedo" x="1874.4" y="1594.8"/><use href="#malbedo" x="1924.7" y="1599.2"/><use href="#malbedo" x="1975.1" y="1606.5"/><use href="#malbedo" x="2025.4" y="1618.2"/><use href="#malbedo" x="2075.7" y="1626.5"/><use href="#malbedo" x="2126" y="1628.2"/><use href="#malbedo" x="2176.3" y="1638.1"/><use href="#malbedo" x="2226.7" y="1641.5"/><use href="#malbedo" x="2277" y="1648.1"/></g>
<polyline points="314.5,1002.6 364.8,999.3 415.1,1003.3 465.5,1003.3 515.8,1004.3 566.1,1005.3 616.4,1007 666.7,1008.6 717.1,1008.6 767.4,1009.3 817.7,1011 868,1012 918.3,1012.6 968.7,1013.3 1019,1014 1069.3,1013.6 1119.6,1016 1169.9,1017.6 1220.3,1019.3 1270.6,1020.3 1320.9,1020.3 1371.2,1022.6 1421.5,1022.6 1471.9,1025 1522.2,1026.6 1572.5,1018.6 1622.8,1022 1673.1,1031 1723.5,1031 1773.8,1033.3 1824.1,1029.3 1874.4,1026 1924.7,1031 1975.1,1035.3 2025.4,1037.6 2075.7,1027.6 2126,1041 2176.3,1037.6 2226.7,1040 2277,1032.6" stroke="#c85000" stroke-width="6.4" stroke-linejoin="round" fill="none"/>
<g><use href="#mDEM" x="314.5" y="1002.6"/><use href="#mDEM" x="364.8" y="999.3"/><use href="#mDEM" x="415.1" y="1003.3"/><use href="#mDEM" x="465.5" y="1003.3"/><use href="#mDEM" x="515.8" y="1004.3"/><use href="#mDEM" x="566.1" y="1005.3"/><use href="#mDEM" x="616.4" y="1007"/><use href="#mDEM" x="666.7" y="1008.6"/><use href="#mDEM" x="717.1" y="1008.6"/><use href="#mDEM" x="767.4" y="1009.3"/><use href="#mDEM" x="817.7" y="1011"/><use href="#mDEM" x="868" y="1012"/><use href="#mDEM" x="918.3" y="1012.6"/><use href="#mDEM" x="968.7" y="1013.3"/><use href="#mDEM" x="1019" y="1014"/><use href="#mDEM" x="1069.3" y="1013.6"/><use href="#mDEM" x="1119.6" y="1016"/><use href="#mDEM" x="1169.9" y="1017.6"/><use href="#mDEM" x="1220.3" y="1019.3"/><use href="#mDEM" x="1270.6" y="1020.3"/><use href="#mDEM" x="1320.9" y="1020.3"/><use href="#mDEM" x="1371.2" y="1022.6"/><use href="#mDEM" x="1421.5" y="1022.6"/><use href="#mDEM" x="1471.9" y="1025"/><use href="#mDEM" x="1522.2" y="1026.6"/><use href="#mDEM" x="1572.5" y="1018.6"/><use href="#mDEM" x="1622.8" y="1022"/><use href="#mDEM" x="1673.1" y="1031"/><use href="#mDEM" x="1723.5" y="1031"/><use href="#mDEM" x="1773.8" y="1033.3"/><use href="#mDEM" x="1824.1" y="1029.3"/><use href="#mDEM" x="1874.4" y="1026"/><use href="#mDEM" x="1924.7" y="1031"/><use href="#mDEM" x="1975.1" y="1035.3"/><use href="#mDEM" x="2025.4" y="1037.6"/><use href="#mDEM" x="2075.7" y="1027.6"/><use href="#mDEM" x="2126" y="1041"/><use href="#mDEM" x="2176.3" y="1037.6"/><use href="#mDEM" x="2226.7" y="1040"/><use href="#mDEM" x="2277" y="1032.6"/></g>
</g>
<line x1="436.3" y1="103.3" x2="572.6" y2="103.3" stroke="#008686" stroke-width="6" stroke-linecap="round"/>
<use href="#mTa" x="504.5" y="103.3"/>
<line x1="689.5" y1="103.3" x2="825.2" y2="103.3" stroke="#990088" stroke-width="6" stroke-linecap="round"/>
<use href="#mU" x="757.4" y="103.3"/>
<line x1="932.8" y1="103.3" x2="1067" y2="103.3" stroke="#0000ff" stroke-width="6" stroke-linecap="round"/>
<use href="#mTs" x="999.9" y="103.3"/>
<line x1="1181.9" y1="103.3" x2="1317.9" y2="103.3" stroke="#00aa00" stroke-width="6" stroke-linecap="round"/>
<use href="#mNDVI" x="1249.9" y="103.3"/>
<line x1="1543.4" y1="103.3" x2="1679.3" y2="103.3" stroke="#000080" stroke-width="6" stroke-linecap="round"/>
<use href="#malbedo" x="1611.3" y="103.3"/>
<line x1="1902.9" y1="103.3" x2="2037.5" y2="103.3" stroke="#c85000" stroke-width="6" stroke-linecap="round"/>
<use href="#mDEM" x="1970.2" y="103.3"/>
<g font-size="61">
<text x="587.5" y="123.3">T<tspan font-size="42" dy="15.7" dx="-2">a</tspan></text>
<text x="840.5" y="123.3">U</text>
<text x="1082.5" y="123.3">T<tspan font-size="42" dy="15.7" dx="-2">s</tspan></text>
<text x="1333.5" y="123.3">NDVI</text>
<text x="1693.8" y="123.3">albedo</text>
<text x="2053" y="123.3">DEM</text>
</g>
<g font-size="70" letter-spacing="-0.7">
<text x="298" y="214.6" text-anchor="end">1.0005</text>
<text x="298" y="426.5" text-anchor="end">1.0002</text>
<text x="298" y="637.6" text-anchor="end">0.9999</text>
<text x="298" y="850.3" text-anchor="end">0.9996</text>
<text x="2305.5" y="569.3">1.0</text>
<text x="2298" y="1022.9">1.0</text>
<text x="2298" y="1223.1">0.9</text>
<text x="2298" y="1423.2">0.8</text>
<text x="2298" y="1623.4">0.7</text>
<text x="315.5" y="1833" text-anchor="middle">0</text>
<text x="767.4" y="1833" text-anchor="middle">300</text>
<text x="1271.5" y="1833" text-anchor="middle">600</text>
<text x="1773.6" y="1833" text-anchor="middle">900</text>
<text x="2278.5" y="1833" text-anchor="middle">1200</text>
</g>
<text x="1296" y="1917.5" font-size="70" text-anchor="middle" textLength="595" lengthAdjust="spacing">Spatial resolution (m)</text>
<text transform="translate(77.5,475.5) rotate(-90)" font-size="72" text-anchor="middle" textLength="612">Relative spatial mean</text>
<text transform="translate(2453,1329) rotate(-90)" font-size="77.5" text-anchor="middle" textLength="1072">Relative spatial standard deviation</text>
</svg></body></html>
